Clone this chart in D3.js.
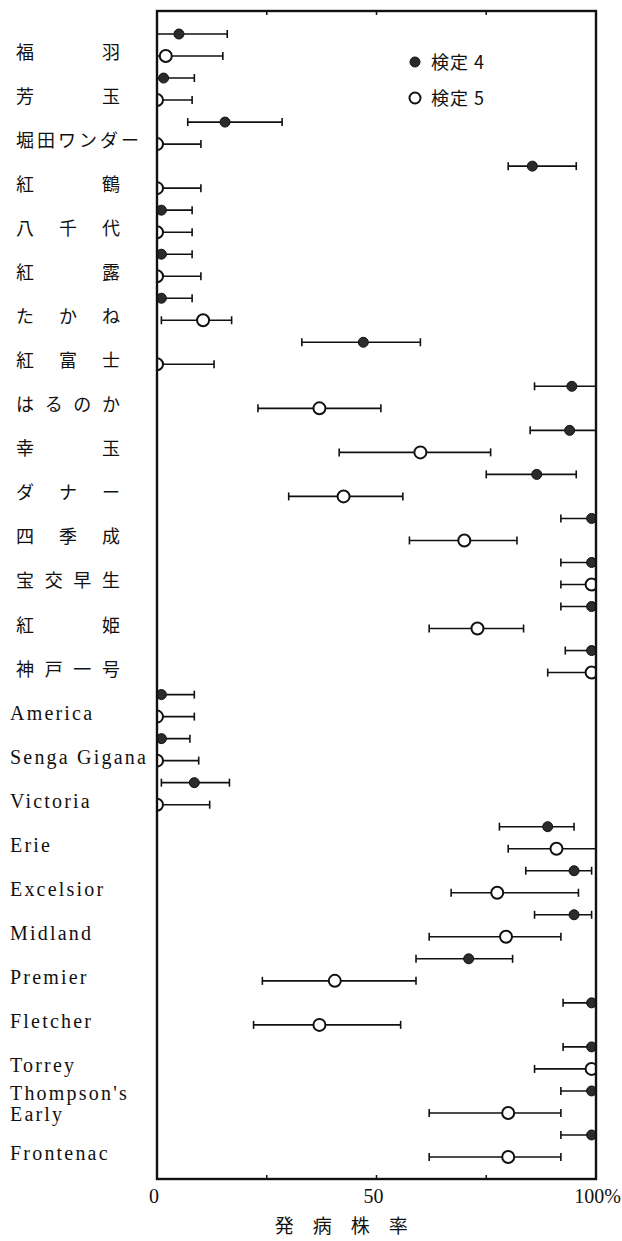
<!DOCTYPE html>
<html>
<head>
<meta charset="utf-8">
<script src="https://cdn.jsdelivr.net/npm/d3@7"></script>
<style>
  html, body { margin: 0; padding: 0; background: #fff; }
  svg { display: block; }
</style>
</head>
<body>
<div id="chart"></div>
<script>
// varieties, top to bottom
const varieties = ["福羽","芳玉","堀田ワンダー","紅鶴","八千代","紅露","たかね","紅富士",
  "はるのか","幸玉","ダナー","四季成","宝交早生","紅姫","神戸一号",
  "America","Senga Gigana","Victoria","Erie","Excelsior","Midland","Premier",
  "Fletcher","Torrey","Thompson's Early","Frontenac"];

// 検定 4 (filled): mean, lower, upper  (% diseased plants)
const t4Mean = [5, 1.5, 15.5, 85.5, 1, 1, 1, 47, 94.5, 94, 86.5, 99, 99, 99, 99,
  1, 1, 8.5, 89, 95, 95, 71, 99, 99, 99, 99];
const t4Lo = [0, 0, 7, 80, 0, 0, 0, 33, 86, 85, 75, 92, 92, 92, 93,
  0, 0, 1, 78, 84, 86, 59, 92.5, 92.5, 92, 92];
const t4Hi = [16, 8.5, 28.5, 95.5, 8, 8, 8, 60, 100, 100, 95.5, 100, 100, 100, 100,
  8.5, 7.5, 16.5, 95, 99, 99, 81, 100, 100, 100, 100];

// 検定 5 (open)
const t5Mean = [2, 0, 0, 0, 0, 0, 10.5, 0, 37, 60, 42.5, 70, 99, 73, 99,
  0, 0, 0, 91, 77.5, 79.5, 40.5, 37, 99, 80, 80];
const t5Lo = [0, 0, 0, 0, 0, 0, 1, 0, 23, 41.5, 30, 57.5, 92, 62, 89,
  0, 0, 0, 80, 67, 62, 24, 22, 86, 62, 62];
const t5Hi = [15, 8, 10, 10, 8, 10, 17, 13, 51, 76, 56, 82, 100, 83.5, 100,
  8.5, 9.5, 12, 100, 96, 92, 59, 55.5, 100, 92, 92];

const tickValues = [0, 50, 100];
const tickLabels = ["0", "50", "100%"];
const minorTicks = [25, 50, 75];
const seriesNames = ["検定 4", "検定 5"];
const axisTitle = "発　病　株　率";

const width = 622, height = 1241;
const plotL = 157, plotR = 596, plotT = 11, plotB = 1179;

const svg = d3.select("#chart").append("svg")
  .attr("width", width).attr("height", height);

const x = d3.scaleLinear().domain([0, 100]).range([plotL, plotR]);
const y = d3.scaleBand().domain(varieties).range([23, 1168]);
const bw = y.bandwidth();
const y4 = v => y(v) + bw * 0.25;
const y5 = v => y(v) + bw * 0.75;

const rows = [];
varieties.forEach((v, i) => {
  rows.push({ v, s: 4, m: t4Mean[i], lo: t4Lo[i], hi: t4Hi[i], yy: y4(v) });
  rows.push({ v, s: 5, m: t5Mean[i], lo: t5Lo[i], hi: t5Hi[i], yy: y5(v) });
});

svg.append("clipPath").attr("id", "plot-clip")
  .append("rect").attr("x", plotL).attr("y", plotT)
  .attr("width", plotR - plotL).attr("height", plotB - plotT);

const g = svg.append("g").attr("clip-path", "url(#plot-clip)");

// error bars
g.selectAll("line.err").data(rows).join("line").attr("class", "err")
  .attr("x1", d => x(d.lo)).attr("x2", d => x(d.hi))
  .attr("y1", d => d.yy).attr("y2", d => d.yy)
  .attr("stroke", "#111").attr("stroke-width", 1.6);

const caps = rows.flatMap(d => [{ xv: d.lo, yy: d.yy }, { xv: d.hi, yy: d.yy }]);
g.selectAll("line.cap").data(caps).join("line").attr("class", "cap")
  .attr("x1", d => x(d.xv)).attr("x2", d => x(d.xv))
  .attr("y1", d => d.yy - 4).attr("y2", d => d.yy + 4)
  .attr("stroke", "#111").attr("stroke-width", 1.6);

// markers
g.selectAll("circle.pt").data(rows).join("circle").attr("class", "pt")
  .attr("cx", d => x(d.m)).attr("cy", d => d.yy)
  .attr("r", d => d.s === 4 ? 5 : 6)
  .attr("fill", d => d.s === 4 ? "#2b2b2b" : "#fff")
  .attr("stroke", "#111")
  .attr("stroke-width", d => d.s === 4 ? 1 : 2);

// frame
svg.append("rect").attr("x", plotL).attr("y", plotT)
  .attr("width", plotR - plotL).attr("height", plotB - plotT)
  .attr("fill", "none").attr("stroke", "#111").attr("stroke-width", 2.4);

// small ticks on top and bottom edges
svg.selectAll("line.tb").data(minorTicks).join("line").attr("class", "tb")
  .attr("x1", d => x(d)).attr("x2", d => x(d))
  .attr("y1", plotT).attr("y2", plotT + 4)
  .attr("stroke", "#111").attr("stroke-width", 1.5);
svg.selectAll("line.bt").data(minorTicks).join("line").attr("class", "bt")
  .attr("x1", d => x(d)).attr("x2", d => x(d))
  .attr("y1", plotB).attr("y2", plotB - 4)
  .attr("stroke", "#111").attr("stroke-width", 1.5);

// tick labels
svg.selectAll("text.tick").data(tickValues).join("text").attr("class", "tick")
  .attr("x", (d, i) => i === tickValues.length - 1 ? x(d) + 25 : x(d) - 3)
  .attr("y", plotB + 24)
  .attr("text-anchor", (d, i) => i === tickValues.length - 1 ? "end" : "middle")
  .style("font-family", "'Liberation Serif', 'DejaVu Serif', serif")
  .style("font-size", "20px").style("fill", "#111")
  .text((d, i) => tickLabels[i]);

// x axis title
svg.append("text").attr("x", x(42)).attr("y", 1233)
  .attr("text-anchor", "middle")
  .style("font-family", "'Noto Sans CJK JP', sans-serif")
  .style("font-size", "19px").style("fill", "#111")
  .text(axisTitle);

// category labels
const latin = /^[A-Za-z]/;
varieties.forEach(v => {
  const cy = y5(v) - 4;
  if (latin.test(v)) {
    const t = svg.append("text")
      .style("font-family", "'Liberation Serif', 'DejaVu Serif', serif")
      .style("font-size", "20px").style("letter-spacing", "2.2px")
      .style("fill", "#111");
    const parts = v === "Thompson's Early" ? ["Thompson's", "Early"] : [v];
    if (parts.length === 2) {
      t.append("tspan").attr("x", 10).attr("y", cy - 9).text(parts[0]);
      t.append("tspan").attr("x", 10).attr("y", cy + 12).text(parts[1]);
    } else {
      t.attr("x", 10).attr("y", cy + 7).text(v);
    }
  } else {
    const chars = Array.from(v);
    const n = chars.length;
    const step = n > 1 ? Math.max(86 / (n - 1), 21) : 0;
    chars.forEach((c, i) => {
      svg.append("text").attr("x", 16 + i * step).attr("y", cy + 7)
        .style("font-family", "'Noto Sans CJK JP', sans-serif")
        .style("font-size", "18px").style("fill", "#111")
        .text(c);
    });
  }
});

// legend
const legend = svg.append("g").attr("transform", "translate(415,62)");
seriesNames.forEach((s, i) => {
  const row = legend.append("g").attr("transform", `translate(0,${i * 36})`);
  row.append("circle").attr("r", i === 0 ? 5 : 5.5)
    .attr("fill", i === 0 ? "#2b2b2b" : "#fff")
    .attr("stroke", "#111").attr("stroke-width", i === 0 ? 1 : 2);
  row.append("text").attr("x", 16).attr("y", 7)
    .style("font-family", "'Noto Sans CJK JP', sans-serif")
    .style("font-size", "18px").style("letter-spacing", "1px").style("fill", "#111")
    .text(s);
});
</script>
</body>
</html>
